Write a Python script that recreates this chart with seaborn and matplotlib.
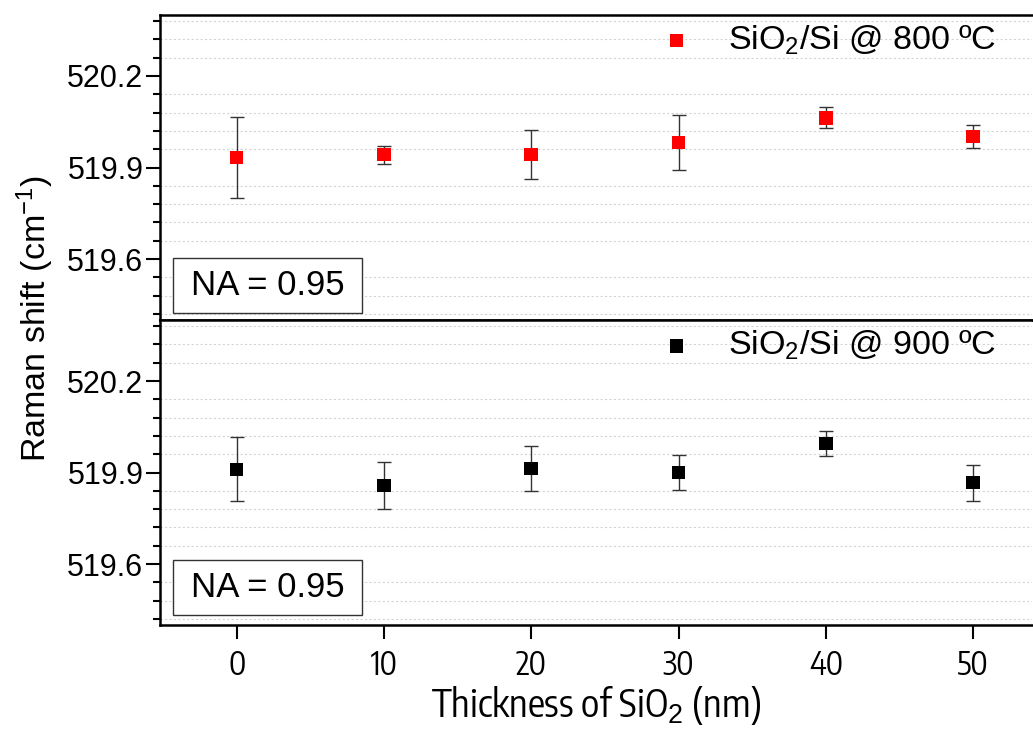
import numpy as np
import pandas as pd
import matplotlib
matplotlib.use("Agg")
import matplotlib.pyplot as plt
from matplotlib import font_manager
from matplotlib.patches import Rectangle
from matplotlib.ticker import MultipleLocator, FixedLocator
import seaborn as sns

# Thickness of the SiO2 layer (nm)
thickness = [0, 10, 20, 30, 40, 50]

# Raman peak position and spread, annealed at 800 C
shift_800 = [519.933, 519.942, 519.942, 519.982, 520.063, 520.001]
err_800 = [0.133, 0.030, 0.080, 0.090, 0.035, 0.037]

# Raman peak position and spread, annealed at 900 C
shift_900 = [519.910, 519.858, 519.913, 519.900, 519.995, 519.867]
err_900 = [0.105, 0.078, 0.073, 0.057, 0.042, 0.059]

labels = [r"SiO$_2$/Si @ 800 ºC", r"SiO$_2$/Si @ 900 ºC"]
colors = ["#ff0000", "#000000"]
na_text = "NA = 0.95"

sns.set_style("ticks", {"axes.edgecolor": "black", "text.color": "black",
                        "axes.labelcolor": "black", "xtick.color": "black",
                        "ytick.color": "black"})
plt.rcParams["font.family"] = ["Liberation Sans", "DejaVu Sans"]
plt.rcParams["mathtext.fontset"] = "custom"
plt.rcParams["mathtext.rm"] = "Liberation Sans"
plt.rcParams["mathtext.it"] = "Liberation Sans:italic"

# A condensed sans face for the x axis, if one is available
narrow_name = None
for f in font_manager.fontManager.ttflist:
    if ("Narrow" in f.name or "Condensed" in f.name) and "Sans" in f.name \
            and f.style == "normal" and f.weight in (400, "normal", "regular"):
        narrow_name = f.name
        break
if narrow_name:
    xfam = [narrow_name, "Liberation Sans", "DejaVu Sans"]
    xtick_size, xlabel_size = 23, 27.5
else:
    xfam = ["Liberation Sans", "DejaVu Sans"]
    xtick_size, xlabel_size = 20, 24

fig = plt.figure(figsize=(10.33, 7.31), dpi=100)
left, right = 0.155, 0.999
top, mid, bottom = 0.9795, 0.5622, 0.145
ax_top = fig.add_axes([left, mid, right - left, top - mid])
ax_bot = fig.add_axes([left, bottom, right - left, mid - bottom], sharex=ax_top)

series = [
    (ax_top, shift_800, err_800, labels[0], colors[0], 0.023),
    (ax_bot, shift_900, err_900, labels[1], colors[1], 0.033),
]

for ax, y, e, lab, col, box_y in series:
    df = pd.DataFrame({"thickness": thickness, "shift": y, "err": e})
    ax.errorbar(df["thickness"], df["shift"], yerr=df["err"], fmt="none",
                ecolor="#333333", elinewidth=1.0, capsize=4.8, capthick=1.0,
                zorder=2)
    sns.scatterplot(data=df, x="thickness", y="shift", marker="s", s=95,
                    color=col, edgecolor="none", linewidth=0, label=lab,
                    ax=ax, zorder=3)
    ax.set_ylim(519.4, 520.4)
    ax.set_xlim(-5.2, 54)
    ax.yaxis.set_major_locator(FixedLocator([519.6, 519.9, 520.2]))
    ax.yaxis.set_minor_locator(FixedLocator(
        [519.42, 519.48, 519.54, 519.66, 519.72, 519.78, 519.84, 519.96,
         520.02, 520.08, 520.14, 520.26, 520.32, 520.38]))
    ax.yaxis.grid(True, which="minor", linestyle=(0, (2, 2)), color="#d4d4d4",
                  linewidth=0.8)
    ax.yaxis.grid(False, which="major")
    ax.xaxis.grid(False)
    ax.set_axisbelow(True)
    ax.tick_params(axis="y", which="major", direction="out", length=10,
                   width=1.5, labelsize=22, pad=2)
    ax.tick_params(axis="y", which="minor", direction="out", length=5,
                   width=1.5)
    for s in ["left", "top", "bottom"]:
        ax.spines[s].set_linewidth(1.8)
    ax.spines["right"].set_visible(False)
    ax.set_ylabel("")
    ax.set_xlabel("")
    ax.legend(loc="upper right", frameon=False, fontsize=24.5,
              handletextpad=0.5, borderaxespad=0.15, markerscale=1.0,
              bbox_to_anchor=(0.98, 1.033))
    ax.add_patch(Rectangle((0.0149, box_y), 0.2167, 0.18,
                           transform=ax.transAxes, facecolor="white",
                           edgecolor="#333333", linewidth=1.0, zorder=4))
    ax.text(0.0149 + 0.2167 / 2, box_y + 0.09, na_text,
            transform=ax.transAxes, fontsize=25, ha="center", va="center",
            zorder=5)

ax_top.tick_params(axis="x", which="both", bottom=False, labelbottom=False)
ax_bot.xaxis.set_major_locator(MultipleLocator(10))
ax_bot.tick_params(axis="x", which="major", direction="out", length=10,
                   width=1.5, labelsize=xtick_size, pad=7)
for t in ax_bot.get_xticklabels():
    t.set_family(xfam)

ax_bot.set_xlabel(r"Thickness of SiO$_2$ (nm)", fontsize=xlabel_size,
                  family=xfam, labelpad=1)
fig.text(0.034, 0.565, r"Raman shift (cm$^{-1}$)", rotation=90, fontsize=24.5,
         ha="center", va="center")

fig.savefig("out.png", dpi=100)
